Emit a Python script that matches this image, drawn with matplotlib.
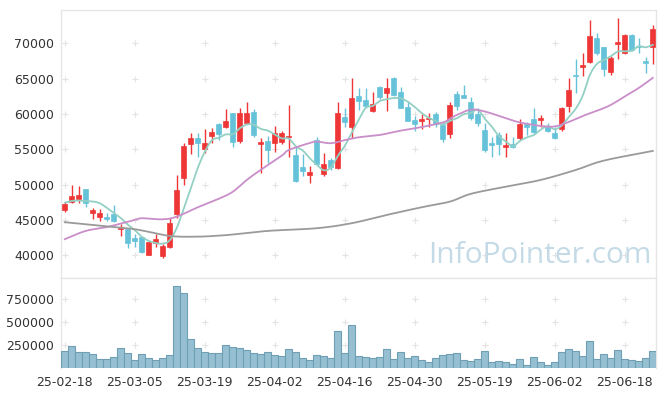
import numpy as np
import pandas as pd
import matplotlib
matplotlib.use("Agg")
import matplotlib.pyplot as plt

dates = ["25-02-18","25-02-19","25-02-20","25-02-21","25-02-24","25-02-25","25-02-26","25-02-27","25-02-28","25-03-04",
         "25-03-05","25-03-06","25-03-07","25-03-10","25-03-11","25-03-12","25-03-13","25-03-14","25-03-17","25-03-18",
         "25-03-19","25-03-20","25-03-21","25-03-24","25-03-25","25-03-26","25-03-27","25-03-28","25-03-31","25-04-01",
         "25-04-02","25-04-03","25-04-04","25-04-07","25-04-08","25-04-09","25-04-10","25-04-11","25-04-14","25-04-15",
         "25-04-16","25-04-17","25-04-18","25-04-21","25-04-22","25-04-23","25-04-24","25-04-25","25-04-28","25-04-29",
         "25-04-30","25-05-02","25-05-07","25-05-08","25-05-09","25-05-12","25-05-13","25-05-14","25-05-15","25-05-16",
         "25-05-19","25-05-20","25-05-21","25-05-22","25-05-23","25-05-26","25-05-27","25-05-28","25-05-29","25-05-30",
         "25-06-02","25-06-04","25-06-05","25-06-09","25-06-10","25-06-11","25-06-12","25-06-13","25-06-16","25-06-17",
         "25-06-18","25-06-19","25-06-20","25-06-23","25-06-24"]

opens = [46430,47560,47980,49400,45960,45480,45440,45860,43700,43700,
         42510,42570,40110,41800,39970,41240,45820,51000,55800,56610,
         55050,56930,58590,58210,60190,56230,58690,60240,55760,56190,
         55950,56090,56710,54210,52550,51420,56330,51560,53500,52410,
         59620,58210,62550,61980,60470,63780,62930,65050,63070,60950,
         59150,59060,59250,59960,58450,57180,62830,62690,61740,59960,
         57740,55950,57030,55340,55760,56570,58550,59300,59150,58210,
         57270,57840,61130,65520,66690,67400,70710,69430,65980,69860,
         68590,71170,69660,67500,69430]
highs = [47520,49960,49820,49400,46750,46570,45960,47090,44450,43930,
         43030,42570,41950,43080,41580,45260,51380,55950,57360,57360,
         57840,58000,58690,60670,60190,60810,61740,60670,56570,56890,
         58310,57640,61280,55290,54300,52690,56710,54530,53740,61660,
         60800,65140,63640,63640,63070,63960,65050,65280,63860,61660,
         59760,59960,60190,60330,58910,61740,63260,64100,62450,60810,
         58690,56790,57500,57270,56790,59300,58910,60810,59820,58690,
         58120,61040,65050,67740,68670,73300,71410,69530,68200,73540,
         71320,71310,70710,68110,72590]
lows = [46100,47380,47380,46810,45110,44870,44830,44730,42710,41010,
        41240,40300,40100,41240,39680,41010,45250,49960,54350,53910,
        54450,55900,56330,58070,55290,55860,58550,56790,51700,53120,
        54590,55760,53970,50430,51240,50290,52790,51240,52090,52270,
        58210,56570,60570,60810,60240,62170,60470,62590,60810,59010,
        57640,57840,58210,58210,56000,56570,60570,62220,59150,58350,
        54590,53910,54210,53910,55150,56330,57030,57130,58210,57500,
        56430,57640,60330,62930,65380,67260,68350,65380,65520,67740,
        68450,68910,68590,65760,67070]
closes = [47240,48410,48550,47460,46430,46000,45200,44870,43880,41800,
          42090,40530,41950,42370,41340,44550,49260,55480,56610,55950,
          55900,57460,57220,59010,56090,60100,60100,57050,56090,54910,
          57320,57360,56890,50570,51990,51800,52930,52890,52510,60190,
          58910,62310,61880,61130,61420,62360,63640,62690,60890,59060,
          58590,59340,59400,58590,56430,61280,61180,62310,59480,58690,
          54910,55620,55720,55620,55380,58550,58120,57420,59480,57640,
          56570,60810,63400,65330,66930,71030,68590,66320,67960,70230,
          71170,69050,69430,67260,71980]
volumes = [185000,236000,170000,170000,149000,94000,94000,116000,214000,160000,
           83000,149000,105000,83000,105000,138000,893000,817000,313000,214000,
           170000,160000,160000,247000,225000,214000,192000,160000,149000,170000,
           138000,127000,203000,170000,105000,83000,138000,127000,105000,400000,
           160000,466000,127000,116000,105000,116000,203000,94000,170000,105000,
           127000,83000,61000,105000,138000,149000,160000,83000,72000,94000,
           181000,61000,72000,61000,39000,94000,28000,116000,61000,28000,
           61000,170000,203000,181000,127000,291000,94000,149000,105000,192000,
           94000,83000,72000,105000,181000]

# 5-day MA: first four values (need earlier history), rest from closes
ma5_head = [47460, 47700, 47750, 47660]
# 20-day and 60-day MA at these candle indices
ma20_idx = [0, 3, 6, 10, 11, 14, 16, 19, 22, 24, 26, 28, 31, 32, 35, 36, 38, 40, 42, 45,
            48, 51, 54, 55, 56, 58, 60, 63, 65, 68, 70, 72, 74, 76, 78, 80, 82, 84]
ma20_val = [42290, 43460, 44000, 45010, 45250, 45100, 45480, 46800, 48000, 49000, 50670, 52100,
            54100, 54900, 55900, 56090, 55860, 56300, 56700, 57030, 57640, 58150, 58800, 59300,
            59860, 60600, 60350, 59400, 58800, 58300, 58240, 58870, 59720, 60430, 61280, 62480,
            63680, 65100]
ma60_idx = [0, 5, 10, 15, 19, 22, 24, 29, 36, 41, 46, 51, 55, 58, 63, 68, 73, 77, 84]
ma60_val = [44690, 44210, 43700, 42750, 42650, 42790, 42950, 43460, 43840, 44550, 45720,
            46810, 47600, 48700, 49720, 50670, 52080, 53400, 54770]

tick_every = 10

UP = "#ef3636"
DOWN = "#66c2d9"
C_MA5 = "#93d0c4"
C_MA20 = "#c98ec9"
C_MA60 = "#9a9a9a"
GRID = "#e3e3e3"
SPINE = "#e6e6e6"
TXT = "#333333"

plt.rcParams['font.family'] = ['DejaVu Sans']


def smooth(xs, ys, n=12):
    xs = np.asarray(xs, float)
    ys = np.asarray(ys, float)
    px = np.concatenate([[2 * xs[0] - xs[1]], xs, [2 * xs[-1] - xs[-2]]])
    py = np.concatenate([[2 * ys[0] - ys[1]], ys, [2 * ys[-1] - ys[-2]]])
    ox, oy = [], []
    for k in range(1, len(px) - 2):
        t = np.linspace(0, 1, n, endpoint=False)
        for arr, out in ((px, ox), (py, oy)):
            p0, p1, p2, p3 = arr[k - 1], arr[k], arr[k + 1], arr[k + 2]
            out.extend(0.5 * ((2 * p1) + (-p0 + p2) * t + (2 * p0 - 5 * p1 + 4 * p2 - p3) * t ** 2
                              + (-p0 + 3 * p1 - 3 * p2 + p3) * t ** 3))
    ox.append(xs[-1]); oy.append(ys[-1])
    return np.array(ox), np.array(oy)


n = len(dates)
x = np.arange(n)
ma5 = pd.Series(closes, dtype=float).rolling(5).mean().to_numpy()
ma5[:4] = ma5_head

fig = plt.figure(figsize=(6.65, 3.96), dpi=100)
ax = fig.add_axes([61.3 / 665, 1 - 278 / 396, (656.3 - 61.3) / 665, (278 - 10) / 396])
axv = fig.add_axes([61.3 / 665, 1 - 367.9 / 396, (656.3 - 61.3) / 665, (367.9 - 278) / 396])

# candles
for i in range(n):
    o, h, l, c = opens[i], highs[i], lows[i], closes[i]
    col = UP if c >= o else DOWN
    ax.vlines(i, l, h, color=col, linewidth=1.0, zorder=3)
    bottom = min(o, c)
    height = max(abs(c - o), 60)
    ax.bar(i, height, bottom=bottom, width=0.66, color=col, edgecolor=col, linewidth=0.5, zorder=4)

sx, sy = smooth(x, ma5)
ax.plot(sx, sy, color=C_MA5, lw=1.3, zorder=5)
sx, sy = smooth(ma20_idx, ma20_val)
ax.plot(sx, sy, color=C_MA20, lw=1.3, zorder=5)
sx, sy = smooth(ma60_idx, ma60_val)
ax.plot(sx, sy, color=C_MA60, lw=1.3, zorder=5)

ax.set_xlim(-0.5, n - 0.5)
ax.set_ylim(36800, 74700)
yt = [40000, 45000, 50000, 55000, 60000, 65000, 70000]
ax.set_yticks(yt)
ax.set_yticklabels([str(v) for v in yt])
ax.set_xticks([])
xt = list(range(0, n, tick_every))
gx, gy = np.meshgrid(xt, yt)
ax.scatter(gx.ravel(), gy.ravel(), marker='+', s=14, color=GRID, linewidths=0.8, zorder=1)

ax.text(0.805, 0.085, "InfoPointer.com", transform=ax.transAxes, ha='center', va='center',
        fontsize=21.5, color="#c4dbe7", zorder=2, family='Open Sans')

# volume
axv.bar(x, volumes, width=1.0, color="#96c0d1", edgecolor="#6f9fb4", linewidth=0.8, zorder=3)
axv.set_xlim(-0.5, n - 0.5)
axv.set_ylim(0, 980000)
vt = [250000, 500000, 750000]
axv.set_yticks(vt)
axv.set_yticklabels([str(v) for v in vt])
axv.set_xticks(xt)
axv.set_xticklabels([dates[i] for i in xt])
gx, gy = np.meshgrid(xt, vt)
axv.scatter(gx.ravel(), gy.ravel(), marker='+', s=14, color=GRID, linewidths=0.8, zorder=1)

for a in (ax, axv):
    for s in a.spines.values():
        s.set_color(SPINE)
        s.set_linewidth(1.0)
    a.tick_params(length=0, labelsize=9, colors=TXT, pad=5)
axv.spines['bottom'].set_visible(False)
axv.tick_params(axis='x', pad=6)

fig.savefig("out.png", dpi=100, facecolor='white')
